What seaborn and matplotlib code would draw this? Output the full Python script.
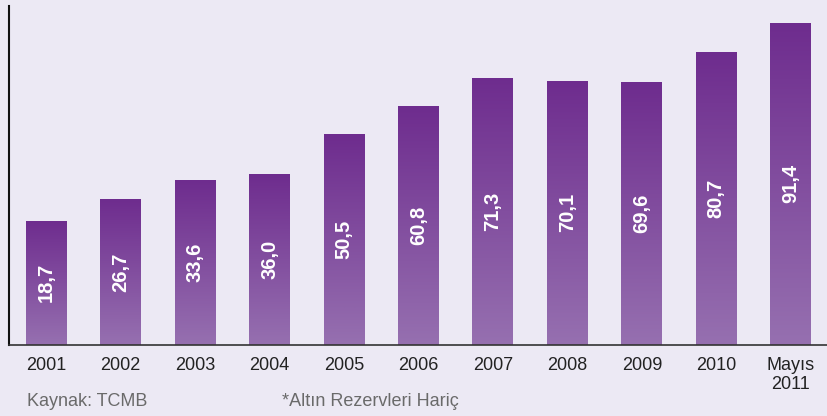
import numpy as np
import matplotlib
matplotlib.use("Agg")
import matplotlib.pyplot as plt
import seaborn as sns
from matplotlib.colors import LinearSegmentedColormap

# Veriler
years = ["2001", "2002", "2003", "2004", "2005", "2006", "2007", "2008", "2009", "2010", "Mayıs\n2011"]
values = [18.7, 26.7, 33.6, 36.0, 50.5, 60.8, 71.3, 70.1, 69.6, 80.7, 91.4]
value_labels = [f"{v:.1f}".replace(".", ",") for v in values]

base = -27.0
top = 97.6
bg = "#ece9f4"

sns.set_style("white")
plt.rcParams["font.family"] = ["Liberation Sans", "DejaVu Sans"]

fig = plt.figure(figsize=(8.28, 4.16), dpi=100, facecolor=bg)
ax = fig.add_axes([9 / 828, 71 / 416, 819 / 828, 339 / 416], facecolor=bg)

sns.barplot(x=years, y=values, color="#8a5aa8", width=0.55, ax=ax)

# degrade morado en cada barra
cmap = LinearSegmentedColormap.from_list("mor", ["#9670b0", "#6e2c8e"])
grad = np.linspace(0, 1, 256).reshape(-1, 1)
for p, v in zip(ax.patches, values):
    x0 = p.get_x()
    w = p.get_width()
    p.set_y(base)
    p.set_height(v - base)
    p.set_facecolor("none")
    p.set_edgecolor("none")
    im = ax.imshow(grad, cmap=cmap, origin="lower", aspect="auto",
                   extent=(x0, x0 + w, base, v), zorder=2)
    im.set_clip_path(p)

for i, (v, lab) in enumerate(zip(values, value_labels)):
    ax.text(i, (base + v) / 2, lab, rotation=90, ha="center", va="center",
            color="white", fontweight="bold", fontsize=14.5, zorder=3)

ax.set_xlim(-0.5, len(values) - 0.5)
ax.set_ylim(base, top)
ax.set_yticks([])
ax.set_xticks(range(len(years)))
ax.set_xticklabels(years)
ax.set_xticks(np.arange(-0.5, len(values), 1), minor=True)
ax.tick_params(axis="x", which="major", length=0, pad=8.5, labelsize=13, labelcolor="#222222")
ax.tick_params(axis="x", which="minor", length=5, width=1.2, color="#333333", direction="out")
ax.set_xlabel("")
ax.set_ylabel("")

for s in ["top", "right"]:
    ax.spines[s].set_visible(False)
ax.spines["left"].set_color("#111111")
ax.spines["left"].set_linewidth(1.5)
ax.spines["bottom"].set_color("#333333")
ax.spines["bottom"].set_linewidth(1.2)

fig.text(27 / 828, 1 - 402 / 416, "Kaynak: TCMB", ha="left", va="center", fontsize=13, color="#6a6a6a")
fig.text(282 / 828, 1 - 402 / 416, "*Altın Rezervleri Hariç", ha="left", va="center", fontsize=13, color="#6a6a6a")

fig.savefig("out.png", dpi=100, facecolor=bg)
